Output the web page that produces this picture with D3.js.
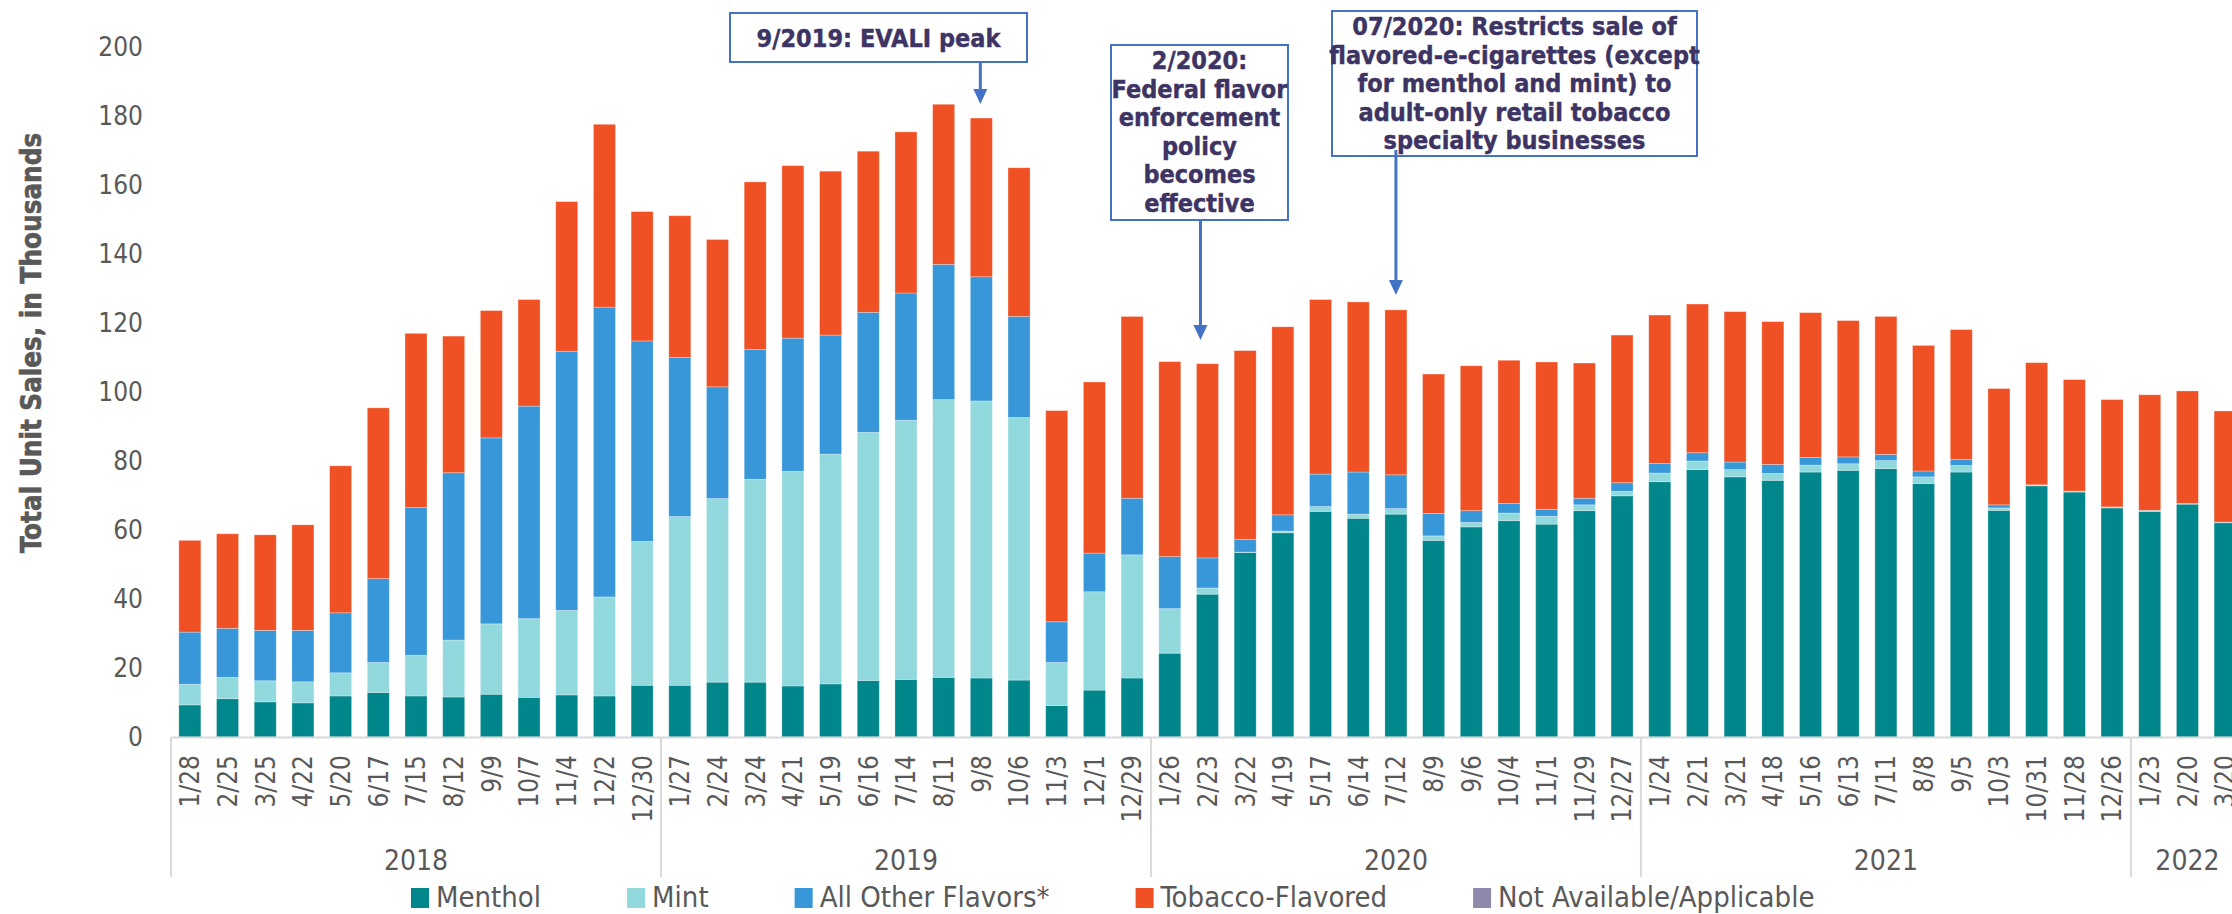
<!DOCTYPE html>
<html>
<head>
<meta charset="utf-8">
<script src="https://cdn.jsdelivr.net/npm/d3@7"></script>
<style>
  html, body { margin: 0; padding: 0; background: #fff; }
  svg { display: block; }
</style>
</head>
<body>
<svg id="chart" width="2232" height="914"></svg>
<script>
// 4-week periods (end dates) and the year each falls in
const periodLabels = [
  "1/28","2/25","3/25","4/22","5/20","6/17","7/15","8/12","9/9","10/7","11/4","12/2","12/30",
  "1/27","2/24","3/24","4/21","5/19","6/16","7/14","8/11","9/8","10/6","11/3","12/1","12/29",
  "1/26","2/23","3/22","4/19","5/17","6/14","7/12","8/9","9/6","10/4","11/1","11/29","12/27",
  "1/24","2/21","3/21","4/18","5/16","6/13","7/11","8/8","9/5","10/3","10/31","11/28","12/26",
  "1/23","2/20","3/20"
];
const periodYears = [
  "2018","2018","2018","2018","2018","2018","2018","2018","2018","2018","2018","2018","2018",
  "2019","2019","2019","2019","2019","2019","2019","2019","2019","2019","2019","2019","2019",
  "2020","2020","2020","2020","2020","2020","2020","2020","2020","2020","2020","2020","2020",
  "2021","2021","2021","2021","2021","2021","2021","2021","2021","2021","2021","2021","2021",
  "2022","2022","2022"
];

// Unit sales, in thousands, by flavor
const menthol = [
  9.3,11.1,10.2,9.9,11.9,12.9,11.9,11.6,12.4,11.5,12.2,11.9,15.0,
  15.0,15.9,15.9,14.8,15.4,16.4,16.7,17.3,17.1,16.5,9.1,13.6,17.1,
  24.3,41.4,53.5,59.2,65.4,63.4,64.6,57.0,60.9,62.7,61.7,65.6,69.9,
  74.0,77.5,75.4,74.4,76.8,77.3,77.8,73.5,76.8,65.7,72.8,71.0,66.4,
  65.4,67.5,62.1
];
const mint = [
  6.0,6.2,6.1,6.1,6.7,8.7,11.8,16.5,20.4,22.8,24.5,28.7,41.7,
  48.9,53.2,58.8,62.2,66.6,71.9,75.1,80.5,80.3,76.1,12.5,28.5,35.7,
  12.9,1.8,0.1,0.5,1.4,1.2,1.6,1.3,1.3,2.2,2.3,1.7,1.3,
  2.5,2.5,2.1,2.0,2.0,1.9,2.3,1.9,1.9,0.7,0.2,0.2,0.2,
  0.2,0.1,0.1
];
const allOther = [
  15.1,14.2,14.6,14.9,17.4,24.3,42.8,48.5,53.9,61.6,75.1,84.0,58.1,
  46.1,32.4,37.6,38.6,34.5,34.8,36.9,39.2,36.0,29.3,11.8,11.2,16.4,
  15.1,8.7,3.7,4.7,9.4,12.2,9.8,6.5,3.4,2.8,2.0,1.9,2.5,
  2.8,2.4,2.2,2.6,2.2,2.0,1.8,1.7,1.7,0.9,0.1,0.1,0.1,
  0.1,0.1,0.1
];
const tobacco = [
  26.6,27.4,27.7,30.6,42.6,49.5,50.5,39.6,36.9,30.9,43.4,53.0,37.5,
  41.1,42.7,48.6,50.0,47.5,46.7,46.7,46.4,46.0,43.1,61.2,49.6,52.7,
  56.5,56.3,54.7,54.5,50.6,49.3,47.8,40.4,42.0,41.5,42.7,39.2,42.8,
  43.0,43.1,43.6,41.4,42.0,39.5,40.0,36.4,37.7,33.7,35.4,32.3,31.1,
  33.5,32.6,32.2
];
const notAvailable = [
  0,0,0,0,0,0,0,0,0,0,0,0,0,
  0,0,0,0,0,0,0,0,0,0,0,0,0,
  0,0,0,0,0,0,0,0,0,0,0,0,0,
  0,0,0,0,0,0,0,0,0,0,0,0,0,
  0,0,0
];

const seriesNames = ["Menthol", "Mint", "All Other Flavors*", "Tobacco-Flavored", "Not Available/Applicable"];
const seriesColors = ["#01868B", "#92D9DE", "#3897D9", "#F05124", "#8E89AA"];
const yTicks = [0, 20, 40, 60, 80, 100, 120, 140, 160, 180, 200];

const annotations = [
  { lines: ["9/2019: EVALI peak"], target: "9/8", box: [730, 13, 297, 49], dx: -1, from: 62, tip: 104 },
  { lines: ["2/2020:", "Federal flavor", "enforcement", "policy", "becomes", "effective"],
    target: "2/23", box: [1111, 45, 177, 175], dx: -7, from: 220, tip: 340 },
  { lines: ["07/2020: Restricts sale of", "flavored-e-cigarettes (except", "for menthol and mint) to",
            "adult-only retail tobacco", "specialty businesses"],
    target: "7/12", box: [1332, 11, 365, 145], dx: 0, from: 150, tip: 295 }
];

const rows = periodLabels.map((p, i) => ({
  key: periodYears[i] + "-" + p,
  label: p,
  year: periodYears[i],
  "Menthol": menthol[i],
  "Mint": mint[i],
  "All Other Flavors*": allOther[i],
  "Tobacco-Flavored": tobacco[i],
  "Not Available/Applicable": notAvailable[i]
}));

const svg = d3.select("#chart");
const textGrey = "#595959";
const axisGrey = "#D9D9D9";
const narrow = "'DejaVu Sans Condensed', 'Liberation Sans Narrow', sans-serif";

const plotLeft = 171, step = 37.69;
const x = d3.scaleBand()
  .domain(rows.map(d => d.key))
  .range([plotLeft, plotLeft + rows.length * step])
  .paddingInner(0.416)
  .paddingOuter(0.208);

const y = d3.scaleLinear().domain([0, 200]).range([737, 47]);

const stacked = d3.stack().keys(seriesNames)(rows);
const color = d3.scaleOrdinal().domain(seriesNames).range(seriesColors);

// Stacked bars
svg.append("g")
  .selectAll("g")
  .data(stacked)
  .join("g")
  .attr("fill", s => color(s.key))
  .selectAll("rect")
  .data(s => s)
  .join("rect")
  .attr("x", d => x(d.data.key))
  .attr("width", x.bandwidth())
  .attr("y", d => y(d[1]))
  .attr("height", d => Math.max(0, y(d[0]) - y(d[1])))
  .attr("stroke", "#fff")
  .attr("stroke-opacity", 0.35)
  .attr("stroke-width", 0.8);

// Y axis
const yAxis = svg.append("g")
  .attr("transform", "translate(147,0)")
  .call(d3.axisLeft(y).tickValues(yTicks).tickSize(0).tickPadding(4));
yAxis.select(".domain").remove();
yAxis.selectAll("text")
  .attr("font-family", narrow)
  .attr("font-size", 26)
  .attr("fill", textGrey);

// Y axis title
svg.append("text")
  .attr("transform", "translate(31,343) rotate(-90)")
  .attr("text-anchor", "middle")
  .attr("dy", "0.35em")
  .attr("font-family", "'DejaVu Sans Condensed', 'DejaVu Sans', sans-serif")
  .attr("font-weight", "bold")
  .attr("font-size", 27.5)
  .attr("fill", textGrey)
  .attr("stroke", textGrey)
  .attr("stroke-width", 0.6)
  .text("Total Unit Sales, in Thousands");

// X axis with rotated period labels
const xAxis = svg.append("g")
  .attr("transform", `translate(0,${y(0)})`)
  .call(d3.axisBottom(x).tickSize(0).tickFormat(k => rows.find(r => r.key === k).label));
xAxis.select(".domain").attr("stroke", axisGrey).attr("stroke-width", 2);
xAxis.selectAll("text")
  .attr("font-family", narrow)
  .attr("font-size", 26)
  .attr("fill", textGrey)
  .attr("text-anchor", "end")
  .attr("transform", "rotate(-90)")
  .attr("x", -18)
  .attr("y", 0)
  .attr("dy", "0.36em");

// Year groups: separators and labels
const years = Array.from(new Set(periodYears));
const yearSpans = years.map(yr => {
  const ks = rows.filter(r => r.year === yr).map(r => r.key);
  const x0 = x(ks[0]) - x.step() * x.paddingInner() / 2;
  const x1 = x(ks[ks.length - 1]) + x.bandwidth() + x.step() * x.paddingInner() / 2;
  return { yr, x0, x1 };
});
const sepG = svg.append("g");
yearSpans.forEach(s => {
  sepG.append("line")
    .attr("x1", s.x0).attr("x2", s.x0)
    .attr("y1", y(0)).attr("y2", 877)
    .attr("stroke", axisGrey).attr("stroke-width", 2);
  svg.append("text")
    .attr("x", (s.x0 + s.x1) / 2)
    .attr("y", 870)
    .attr("text-anchor", "middle")
    .attr("font-family", narrow)
    .attr("font-size", 28)
    .attr("fill", textGrey)
    .text(s.yr);
});

// Legend
const legend = svg.append("g");
let lx = 411;
seriesNames.forEach((name, i) => {
  legend.append("rect")
    .attr("x", lx).attr("y", 888)
    .attr("width", 18).attr("height", 20)
    .attr("fill", seriesColors[i]);
  const t = legend.append("text")
    .attr("x", lx + 25).attr("y", 907)
    .attr("font-family", narrow)
    .attr("font-size", 29)
    .attr("fill", textGrey)
    .text(name);
  lx += 25 + t.node().getComputedTextLength() + 86;
});

// Policy / event callouts
const boxColor = "#4472C4";
const calloutText = "#3D3463";
annotations.forEach(a => {
  const g = svg.append("g");
  const row = rows.find(r => r.label === a.target);
  const ax = x(row.key) + x.bandwidth() / 2 + a.dx;
  g.append("line")
    .attr("x1", ax).attr("x2", ax)
    .attr("y1", a.from).attr("y2", a.tip - 14)
    .attr("stroke", boxColor).attr("stroke-width", 3);
  g.append("path")
    .attr("d", `M${ax - 7},${a.tip - 15} L${ax + 7},${a.tip - 15} L${ax},${a.tip} Z`)
    .attr("fill", boxColor);
  const [bx, by, bw, bh] = a.box;
  g.insert("rect", ":first-child")
    .attr("x", bx).attr("y", by).attr("width", bw).attr("height", bh)
    .attr("fill", "#fff").attr("stroke", boxColor).attr("stroke-width", 2);
  const lineGap = 28.6;
  const firstBase = a.lines.length === 1 ? by + 34 : by + 24;
  a.lines.forEach((ln, j) => {
    g.append("text")
      .attr("x", bx + bw / 2)
      .attr("y", firstBase + j * lineGap)
      .attr("text-anchor", "middle")
      .attr("font-family", narrow)
      .attr("font-weight", "bold")
      .attr("font-size", 25)
      .attr("fill", calloutText)
      .attr("stroke", calloutText)
      .attr("stroke-width", 0.4)
      .text(ln);
  });
});
</script>
</body>
</html>
